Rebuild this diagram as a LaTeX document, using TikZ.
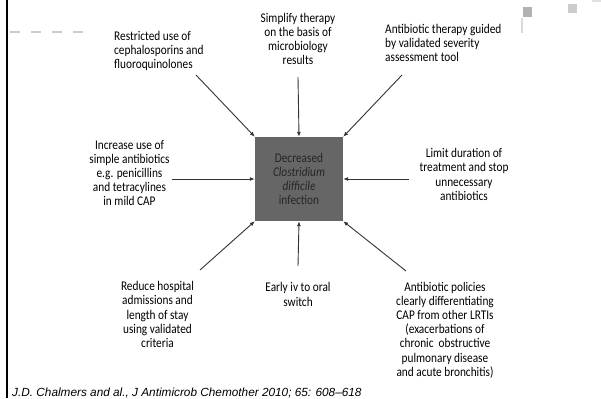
\documentclass[tikz,border=0pt]{standalone}
\usepackage{fontspec}
\setmainfont{Carlito}[FakeStretch=0.85]
\newfontfamily\citefont{Liberation Sans}
\usetikzlibrary{arrows.meta}
\definecolor{boxgrey}{HTML}{666666}
\definecolor{boxtext}{HTML}{262626}
\definecolor{linegrey}{HTML}{333333}
\definecolor{deco}{HTML}{CCCCCC}
\tikzset{
  label/.style={inner sep=0pt, align=center, font=\fontsize{13.3}{14.2}\selectfont, text=black},
  centrebox/.style={fill=boxgrey, minimum width=88pt, minimum height=84pt, inner sep=0pt, align=center,
     font=\fontsize{13.3}{14.2}\selectfont, text=boxtext},
  arr/.style={draw=linegrey, line width=0.9pt, -{Latex[length=5pt,width=4pt]}},
}
\begin{document}
\begin{tikzpicture}[x=1pt,y=-1pt]
\useasboundingbox (0,0) rectangle (601,398);
% decorations
\fill[black] (5.8,0) rectangle (8.4,398);
\draw[deco, line width=1.3pt, dash pattern=on 10pt off 11pt] (10,32) -- (84,32);
\fill[fill=black!30] (523,7) rectangle (532,17);
\fill[fill=black!20] (568,4) rectangle (577,13);
\fill[fill=black!12] (592,0) rectangle (601,2);
\draw[black!15, line width=1.3pt] (522,18) -- (522,33);
% centre
\node[centrebox] (box) at (299,179) {Decreased\\\textit{Clostridium}\\\textit{difficile}\\infection};
% labels
\node[label, anchor=west, align=left] (tl) at (114,51) {Restricted use of\\cephalosporins and\\fluoroquinolones};
\node[label] (t) at (298,39) {Simplify therapy\\on the basis of\\microbiology\\results};
\node[label, anchor=west, align=left] (tr) at (385,43) {Antibiotic therapy guided\\by validated severity\\assessment tool};
\node[label] (l) at (129.5,173) {Increase use of\\simple antibiotics\\e.g. penicillins\\and tetracylines\\in mild CAP};
\node[label] (r) at (464,174.5) {Limit duration of\\treatment and stop\\unnecessary\\antibiotics};
\node[label] (bl) at (157.5,314.5) {Reduce hospital\\admissions and\\length of stay\\using validated\\criteria};
\node[label] (b) at (298,294.5) {Early iv to oral\\switch};
\node[label] (br) at (445,330) {Antibiotic policies\\clearly differentiating\\CAP from other LRTIs\\(exacerbations of\\chronic\ \ obstructive\\pulmonary disease\\and acute bronchitis)};
% arrow start points
\coordinate (tlS) at (196,75);
\coordinate (tS) at (298,77);
\coordinate (trS) at (402,75);
\coordinate (lS) at (172,179);
\coordinate (rS) at (409,179);
\coordinate (blS) at (200,270);
\coordinate (bS) at (298,266);
\coordinate (brS) at (406,271);
\draw[arr] (tlS) -- (box.north west);
\draw[arr] (tS) -- (box.north);
\draw[arr] (trS) -- (box.north east);
\draw[arr] (lS) -- (box.west);
\draw[arr] (rS) -- (box.east);
\draw[arr] (blS) -- (box.south west);
\draw[arr] (bS) -- (box.south);
\draw[arr] (brS) -- (box.south east);
% citation
\node[inner sep=0pt, anchor=base west, font=\citefont\itshape\fontsize{11.8}{13}\selectfont] (cite) at (12,396) {J.D. Chalmers and al., J Antimicrob Chemother 2010; 65: 608–618};
\end{tikzpicture}
\end{document}
